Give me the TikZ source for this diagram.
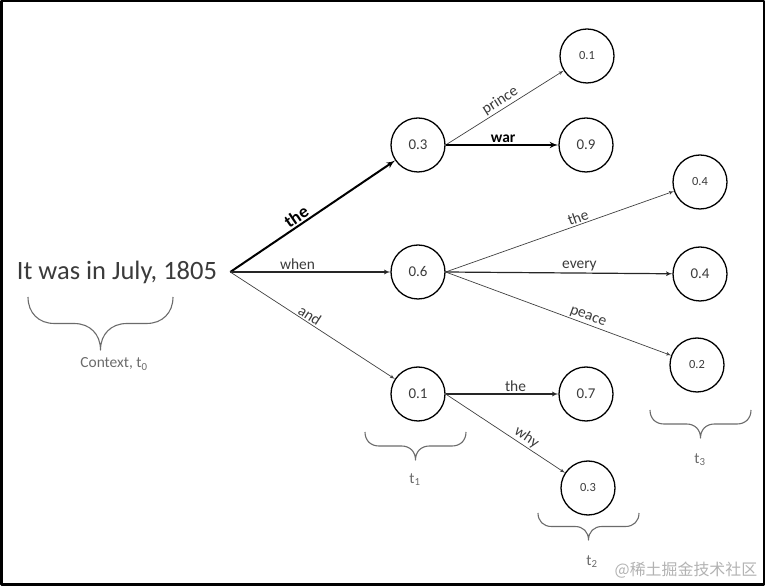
\documentclass[tikz,border=0pt]{standalone}
\usepackage{fontspec}
\setmainfont{Carlito}
\newfontfamily\cjk{Noto Sans CJK SC}
\usetikzlibrary{arrows}
\usetikzlibrary{shapes}

% curly brace under a time step: left x, top y, half width, half height
\newcommand{\stepbrace}[4]{%
  \draw [bracestroke] (#1,#2) .. controls +(0,-0.6*#4) and +(-0.6*#4,0) .. ++(#4,-#4)
    -- ++({#3-2*#4},0) .. controls +(0.6*#4,0) and +(0,0.6*#4) .. ++(#4,-#4)
    .. controls +(0,0.6*#4) and +(-0.6*#4,0) .. ++(#4,#4)
    -- ++({#3-2*#4},0) .. controls +(0.6*#4,0) and +(0,-0.6*#4) .. ++(#4,#4);}

\begin{document}
\begin{tikzpicture}[>=latex',line join=bevel]
\definecolor{textcol}{rgb}{0.23,0.23,0.23}
\definecolor{bracecol}{rgb}{0.42,0.42,0.42}
\tikzset{
  prob/.style={draw=black,line width=1.3bp,circle,minimum size=54bp,inner sep=0pt,text=textcol},
  big/.style={font=\fontsize{15}{17}\selectfont},
  small/.style={font=\fontsize{12.5}{14}\selectfont},
  word/.style={text=textcol,font=\fontsize{15.5}{17}\selectfont,inner sep=1.5bp},
  boldword/.style={text=black,font=\bfseries\fontsize{18}{20}\selectfont,inner sep=1.5bp},
  strong/.style={->,line width=2bp},
  medium/.style={->,line width=1.2bp,draw=black!85},
  weak/.style={->,line width=0.7bp,draw=black!75},
  bracestroke/.style={draw=bracecol,line width=1.1bp,line join=round},
  steplabel/.style={text=bracecol,font=\fontsize{15.5}{17}\selectfont}
}
\useasboundingbox (0bp,0bp) rectangle (765bp,586bp);
\draw [line width=2.5bp] (1.25bp,1.25bp) rectangle (763.75bp,584.75bp);
%%
  \node (root) at (117.0bp,314.0bp) [inner xsep=13bp,text=textcol,font=\fontsize{26.6}{30}\selectfont] {It was in July, 1805};
  \node (p03) at (418.0bp,441.0bp) [prob,big] {0.3};
  \node (p06) at (418.0bp,314.0bp) [prob,big] {0.6};
  \node (p01) at (418.0bp,192.0bp) [prob,big] {0.1};
  \node (p03prince) at (587.0bp,530.0bp) [prob,small] {0.1};
  \node (p03war) at (586.0bp,441.0bp) [prob,big] {0.9};
  \node (p06the) at (700.0bp,404.0bp) [prob,small] {0.4};
  \node (p06every) at (700.0bp,312.0bp) [prob,big] {0.4};
  \node (p06peace) at (697.0bp,221.0bp) [prob,small] {0.2};
  \node (p01the) at (586.0bp,192.0bp) [prob,big] {0.7};
  \node (p01why) at (588.0bp,98.0bp) [prob,small] {0.3};
%%
  \draw [strong] (root.east) -- node[pos=0.43,sloped,above,boldword] {the} (p03);
  \draw [medium] (root.east) -- node[pos=0.42,above,word] {when} (p06);
  \draw [weak] (root.east) -- node[pos=0.46,sloped,above,word] {and} (p01);
  \draw [weak] (p03.east) -- node[pos=0.5,sloped,above,word] {prince} (p03prince);
  \draw [strong] (p03.east) -- node[pos=0.51,above,boldword,font=\bfseries\fontsize{15.5}{17}\selectfont] {war} (p03war);
  \draw [weak] (p06.east) -- node[pos=0.59,sloped,above,word] {the} (p06the);
  \draw [medium] (p06.east) -- node[pos=0.59,above,word] {every} (p06every);
  \draw [weak] (p06.east) -- node[pos=0.62,sloped,above,word] {peace} (p06peace);
  \draw [medium] (p01.east) -- node[pos=0.62,above,word] {the} (p01the);
  \draw [weak] (p01.east) -- node[pos=0.64,sloped,above,word] {why} (p01why);
%%
  \stepbrace{28.0bp}{289.0bp}{72.5bp}{26.5bp}
  \node (ctx) at (114.0bp,222.0bp) [steplabel] {Context, t\textsubscript{0}};
  \stepbrace{365.0bp}{154.0bp}{50.5bp}{14bp}
  \node (t1) at (415.0bp,106.0bp) [steplabel] {t\textsubscript{1}};
  \stepbrace{538.0bp}{73.0bp}{50.5bp}{13.5bp}
  \node (t2) at (592.0bp,24.0bp) [steplabel] {t\textsubscript{2}};
  \stepbrace{650.0bp}{176.0bp}{50.5bp}{14bp}
  \node (t3) at (700.0bp,126.0bp) [steplabel] {t\textsubscript{3}};
%
  \node (mark) at (686.0bp,16.0bp) [text=black!30,font=\cjk\fontsize{16}{18}\selectfont] {@稀土掘金技术社区};
\end{tikzpicture}
\end{document}
